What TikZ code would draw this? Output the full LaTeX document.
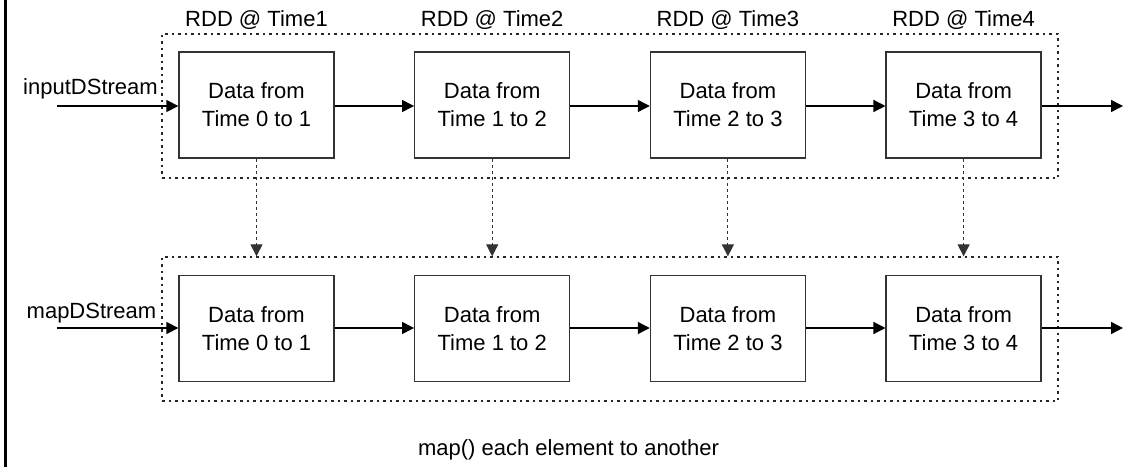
\documentclass[tikz,border=0pt]{standalone}
\usepackage{fontspec}
\setmainfont{Liberation Sans}
\usetikzlibrary{arrows.meta}
\begin{document}
\begin{tikzpicture}[x=1pt,y=-1pt,
  font=\fontsize{22}{28}\selectfont,
  databox/.style={draw=black!80, line width=1.3pt, fill=white, minimum width=155pt, minimum height=106pt, align=center, inner sep=0pt},
  container/.style={draw=black!85, line width=1.3pt, dash pattern=on 2.5pt off 4pt, minimum width=896pt, minimum height=144pt, inner sep=0pt},
  flow/.style={draw=black, line width=1.3pt, -{Triangle[length=12pt,width=12pt]}},
  mapflow/.style={draw=black!80, line width=1.1pt, dash pattern=on 3pt off 3pt, -{Triangle[length=12pt,width=12pt]}},
  lbl/.style={anchor=base, inner sep=0pt}]
\useasboundingbox (0,0) rectangle (1127,468);
\fill[white] (0,0) rectangle (1127,468);
\draw[line width=2.5pt] (5.5,0) -- (5.5,467);

% containers
\node[container] (c1) at (610,106) {};
\node[container] (c2) at (610,329) {};

% titles
\foreach \i/\x in {1/256.5,2/492.2,3/727.9,4/963.6}{
  \node[lbl] (rdd\i) at (\x,26.5) {RDD @ Time\i};
}

% boxes
\node[databox] (t1) at (256.5,105) {Data from\\Time 0 to 1};
\node[databox] (t2) at (492.2,105) {Data from\\Time 1 to 2};
\node[databox] (t3) at (727.9,105) {Data from\\Time 2 to 3};
\node[databox] (t4) at (963.6,105) {Data from\\Time 3 to 4};
\node[databox] (m1) at (256.5,328.5) {Data from\\Time 0 to 1};
\node[databox] (m2) at (492.2,328.5) {Data from\\Time 1 to 2};
\node[databox] (m3) at (727.9,328.5) {Data from\\Time 2 to 3};
\node[databox] (m4) at (963.6,328.5) {Data from\\Time 3 to 4};

% stream labels
\node[lbl] (inlbl) at (90.5,95) {inputDStream};
\node[lbl] (maplbl) at (91.5,318) {mapDStream};
\coordinate (in1) at (57,106);
\coordinate (in2) at (57,328);
\coordinate (out1) at (1123,106);
\coordinate (out2) at (1123,328);

% horizontal flows
\draw[flow] (in1) -- (in1 -| t1.west);
\draw[flow] (t1.east |- in1) -- (t2.west |- in1);
\draw[flow] (t2.east |- in1) -- (t3.west |- in1);
\draw[flow] (t3.east |- in1) -- (t4.west |- in1);
\draw[flow] (t4.east |- in1) -- (out1);
\draw[flow] (in2) -- (in2 -| m1.west);
\draw[flow] (m1.east |- in2) -- (m2.west |- in2);
\draw[flow] (m2.east |- in2) -- (m3.west |- in2);
\draw[flow] (m3.east |- in2) -- (m4.west |- in2);
\draw[flow] (m4.east |- in2) -- (out2);

% map arrows
\foreach \i in {1,2,3,4}{
  \draw[mapflow] (t\i.south) -- (t\i.south |- c2.north);
}

\node[lbl] (caption) at (568.5,455) {map() each element to another};
\end{tikzpicture}
\end{document}
